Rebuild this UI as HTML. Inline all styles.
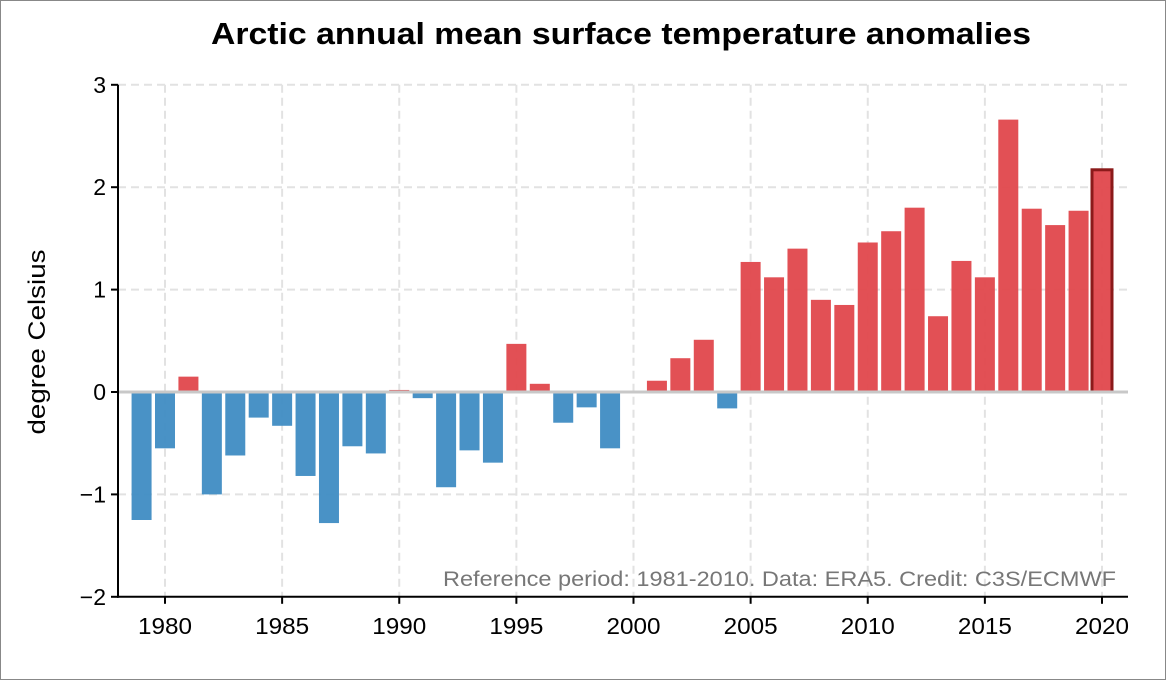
<!DOCTYPE html>
<html><head><meta charset="utf-8"><style>
html,body{margin:0;padding:0;background:#fff;}
svg{display:block;font-family:"Liberation Sans",Arial,sans-serif;}
</style></head><body>
<svg id="chart" width="1166" height="680" viewBox="0 0 1166 680">
<rect x="0.5" y="0.5" width="1165" height="679" fill="#fff" stroke="#888"/>
<text x="621" y="44" text-anchor="middle" font-size="31" font-weight="bold" fill="#000" textLength="820" lengthAdjust="spacingAndGlyphs">Arctic annual mean surface temperature anomalies</text>
<text transform="translate(45,342) rotate(-90)" text-anchor="middle" font-size="24" fill="#000" textLength="185" lengthAdjust="spacingAndGlyphs">degree Celsius</text>
<g id="grid"></g>
<g id="bars"></g>
<g id="axes"></g>
<text x="443" y="586" font-size="21" fill="#777" textLength="673" lengthAdjust="spacingAndGlyphs">Reference period: 1981-2010. Data: ERA5. Credit: C3S/ECMWF</text>
</svg>
<script>
const years = [1979,1980,1981,1982,1983,1984,1985,1986,1987,1988,1989,1990,1991,1992,1993,1994,1995,1996,1997,1998,1999,2000,2001,2002,2003,2004,2005,2006,2007,2008,2009,2010,2011,2012,2013,2014,2015,2016,2017,2018,2019,2020];
const anomalies = [-1.25,-0.55,0.15,-1.0,-0.62,-0.25,-0.33,-0.82,-1.28,-0.53,-0.6,0.02,-0.06,-0.93,-0.57,-0.69,0.47,0.08,-0.3,-0.15,-0.55,0.0,0.11,0.33,0.51,-0.16,1.27,1.12,1.4,0.9,0.85,1.46,1.57,1.8,0.74,1.28,1.12,2.66,1.79,1.63,1.77,2.17];
const yTicks = [-2,-1,0,1,2,3];
const yTickLabels = ["\u22122","\u22121","0","1","2","3"];
const xTicks = [1980,1985,1990,1995,2000,2005,2010,2015,2020];
const highlightYear = 2020;

const NS="http://www.w3.org/2000/svg";
const xs = v => 165 + (v-1980)*(1102-165)/40;
const ys = v => 392 - v*102.4;
const plotLeft=118, plotRight=1128, plotTop=ys(3), plotBottom=ys(-2);
function mk(tag, attrs, parent){const e=document.createElementNS(NS,tag);for(const k in attrs)e.setAttribute(k,attrs[k]);parent.appendChild(e);return e;}
const gGrid=document.getElementById('grid'), gBars=document.getElementById('bars'), gAxes=document.getElementById('axes');
yTicks.forEach(t=>{ if(t===-2) return;
  const l=mk('line',{x1:plotLeft,x2:plotRight,y1:ys(t),y2:ys(t),stroke:'#e2e2e2','stroke-width':2,'stroke-dasharray':'8,5'},gGrid);
  
  
});
xTicks.forEach(t=>{
  const l=mk('line',{x1:xs(t),x2:xs(t),y1:plotTop,y2:plotBottom,stroke:'#e2e2e2','stroke-width':2,'stroke-dasharray':'8,5'},gGrid);
  
  
});
const bw=20;
years.forEach((yr,i)=>{
  const v=anomalies[i];
  const y0=Math.min(ys(0),ys(v)), h=Math.abs(ys(v)-ys(0));
  const r=mk('rect',{x:xs(yr)-bw/2,y:y0,width:bw,height:h,fill:v>=0?'#e0474c':'#3f8cc3','fill-opacity':0.95},gBars);
  if(yr===highlightYear){r.setAttribute('stroke','#8b1a1a');r.setAttribute('stroke-width',3);}
  
  
});
const z=mk('line',{x1:plotLeft,x2:plotRight,y1:ys(0),y2:ys(0),stroke:'#c8c8c8','stroke-width':3},gAxes);


const ya=mk('line',{x1:plotLeft,x2:plotLeft,y1:plotTop,y2:plotBottom+1,stroke:'#000','stroke-width':2},gAxes);


const xa=mk('line',{x1:plotLeft-1,x2:plotRight,y1:plotBottom,y2:plotBottom,stroke:'#000','stroke-width':2},gAxes);


yTicks.forEach((t,i)=>{
  const tk=mk('line',{x1:plotLeft-7,x2:plotLeft,y1:ys(t),y2:ys(t),stroke:'#000','stroke-width':2},gAxes);
  
  
  const tx=mk('text',{x:plotLeft-12,y:ys(t)+8,'text-anchor':'end','font-size':23,fill:'#000'},gAxes);
  tx.textContent=yTickLabels[i];
  
  
});
xTicks.forEach(t=>{
  const tk=mk('line',{x1:xs(t),x2:xs(t),y1:plotBottom,y2:plotBottom+7,stroke:'#000','stroke-width':2},gAxes);
  
  
  const tx=mk('text',{x:xs(t),y:plotBottom+37,'text-anchor':'middle','font-size':23,fill:'#000',textLength:54,lengthAdjust:'spacingAndGlyphs'},gAxes);
  tx.textContent=t;
  
  
});
</script>
</body></html>
